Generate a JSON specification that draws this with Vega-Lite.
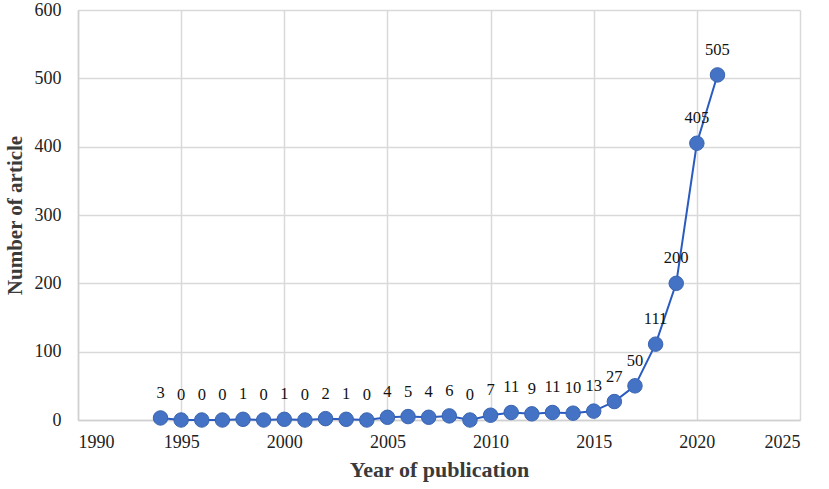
{
  "$schema": "https://vega.github.io/schema/vega-lite/v6.json",
  "autosize": {"type": "none"},
  "width": 722,
  "height": 410,
  "padding": {"left": 78, "top": 10, "right": 29, "bottom": 69},
  "background": "white",
  "config": {
    "view": {"stroke": null},
    "font": "Liberation Serif",
    "axis": {
      "labelFont": "Liberation Serif",
      "titleFont": "Liberation Serif",
      "labelFontSize": 18,
      "labelColor": "#222222",
      "titleFontSize": 22,
      "titleFontWeight": "bold",
      "titleColor": "#3a3a3a",
      "gridColor": "#d9d9d9",
      "gridWidth": 1.5,
      "domainColor": "#d0d0d0",
      "domainWidth": 1.5,
      "ticks": false
    }
  },
  "data": {
    "values": [
      {"year": 1994, "n": 3}, {"year": 1995, "n": 0}, {"year": 1996, "n": 0},
      {"year": 1997, "n": 0}, {"year": 1998, "n": 1}, {"year": 1999, "n": 0},
      {"year": 2000, "n": 1}, {"year": 2001, "n": 0}, {"year": 2002, "n": 2},
      {"year": 2003, "n": 1}, {"year": 2004, "n": 0}, {"year": 2005, "n": 4},
      {"year": 2006, "n": 5}, {"year": 2007, "n": 4}, {"year": 2008, "n": 6},
      {"year": 2009, "n": 0}, {"year": 2010, "n": 7}, {"year": 2011, "n": 11},
      {"year": 2012, "n": 9}, {"year": 2013, "n": 11}, {"year": 2014, "n": 10},
      {"year": 2015, "n": 13}, {"year": 2016, "n": 27}, {"year": 2017, "n": 50},
      {"year": 2018, "n": 111}, {"year": 2019, "n": 200}, {"year": 2020, "n": 405},
      {"year": 2021, "n": 505}
    ]
  },
  "encoding": {
    "x": {
      "field": "year", "type": "quantitative",
      "scale": {"domain": [1990, 2025], "nice": false, "zero": false},
      "axis": {"values": [1990, 1995, 2000, 2005, 2010, 2015, 2020, 2025], "format": "d", "title": "Year of publication", "labelPadding": 13, "titlePadding": 8}
    },
    "y": {
      "field": "n", "type": "quantitative",
      "scale": {"domain": [0, 600], "nice": false},
      "axis": {"values": [0, 100, 200, 300, 400, 500, 600], "title": "Number of article", "labelPadding": 17, "titlePadding": 9, "titleFontSize": 21}
    }
  },
  "layer": [
    {"mark": {"type": "line", "color": "#2a5bc0", "strokeWidth": 2}},
    {"mark": {"type": "circle", "size": 210, "color": "#4472c4", "opacity": 1, "stroke": "#3a64b0", "strokeWidth": 1}},
    {"mark": {"type": "text", "dy": -25, "fontSize": 16.5, "color": "#111111", "font": "Liberation Serif"},
     "encoding": {"text": {"field": "n", "type": "quantitative"}}}
  ]
}
